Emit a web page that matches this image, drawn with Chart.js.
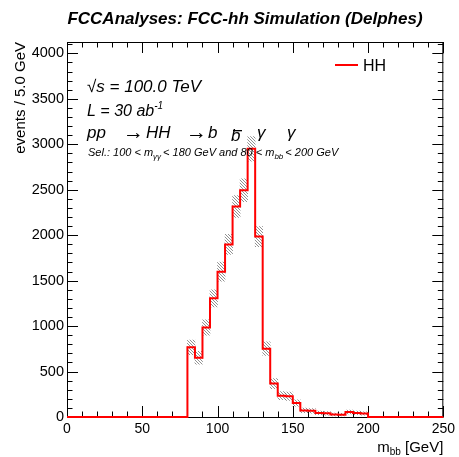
<!DOCTYPE html>
<html>
<head>
<meta charset="utf-8">
<script src="https://cdn.jsdelivr.net/npm/chart.js@4"></script>
<style>
  html, body { margin: 0; padding: 0; background: #fff; }
  #wrap { width: 459px; height: 457px; }
</style>
</head>
<body>
<div id="wrap"><canvas id="c"></canvas></div>
<script>
// m_bb histogram, 5 GeV bins, first filled bin starts at 80 GeV
const binWidth = 5
const firstEdge = 80
const counts = [766, 652, 985, 1305, 1598, 1898, 2315, 2495, 2950, 1985, 752, 368,
  235, 228, 155, 72, 68, 45, 40, 28, 26, 55, 45, 38]
const errors = [80, 70, 85, 95, 105, 110, 120, 125, 135, 110, 75, 55,
  45, 45, 35, 25, 25, 20, 20, 15, 15, 20, 20, 18]
const xTicks = [0, 50, 100, 150, 200, 250]
const yTicks = [0, 500, 1000, 1500, 2000, 2500, 3000, 3500, 4000]
const xRange = [0, 250]
const yRange = [0, 4125]
const xMinorStep = 10
const yMinorStep = 100

const FONT = '"Liberation Sans", Arial, Helvetica, sans-serif'
const RED = '#f00'

// step outline: one point per bin high edge carrying that bin's content
const outline = [{ x: xRange[0], y: 0 }, { x: firstEdge, y: 0 }]
counts.forEach((v, i) => outline.push({ x: firstEdge + (i + 1) * binWidth, y: v }))
outline.push({ x: xRange[1], y: 0 })

const band = counts.map((v, i) => ({
  x: firstEdge + (i + 0.5) * binWidth,
  y: [v - errors[i], v + errors[i]],
}))

function hatch() {
  const s = 3
  const c = document.createElement('canvas')
  c.width = s
  c.height = s
  const g = c.getContext('2d')
  g.strokeStyle = '#444'
  g.lineWidth = 0.6
  g.beginPath()
  g.moveTo(-1, -1); g.lineTo(s + 1, s + 1)
  g.moveTo(-1, s - 1); g.lineTo(1, s + 1)
  g.moveTo(s - 1, -1); g.lineTo(s + 1, 1)
  g.stroke()
  return g.createPattern(c, 'repeat')
}

// draw a run of text pieces left to right; each piece may shift size / baseline
function rich(ctx, x, y, parts, style) {
  let cx = x
  for (const p of parts) {
    ctx.font = `${p.style || style} ${p.size}px ${FONT}`
    ctx.fillText(p.t, cx, y + (p.dy || 0))
    cx += ctx.measureText(p.t).width + (p.gap || 0)
  }
  return cx
}

const frame = {
  id: 'frame',
  beforeDatasetsDraw(chart) {
    const { ctx, chartArea: a, scales: { x, y } } = chart
    ctx.save()
    ctx.strokeStyle = '#000'
    ctx.lineWidth = 1
    ctx.strokeRect(a.left + 0.5, a.top + 0.5, a.right - a.left - 1, a.bottom - a.top)
    ctx.beginPath()
    for (let v = xRange[0]; v <= xRange[1]; v += xMinorStep) {
      const px = Math.round(x.getPixelForValue(v)) + 0.5
      const len = v % 50 === 0 ? 11 : 5.5
      ctx.moveTo(px, a.bottom); ctx.lineTo(px, a.bottom - len)
      ctx.moveTo(px, a.top); ctx.lineTo(px, a.top + len)
    }
    for (let v = yRange[0]; v <= yRange[1]; v += yMinorStep) {
      const py = Math.round(y.getPixelForValue(v)) + 0.5
      const len = v % 500 === 0 ? 11 : 5.5
      ctx.moveTo(a.left, py); ctx.lineTo(a.left + len, py)
      ctx.moveTo(a.right, py); ctx.lineTo(a.right - len, py)
    }
    ctx.stroke()
    ctx.restore()
  },
  afterDraw(chart) {
    const { ctx, chartArea: a } = chart
    ctx.save()
    ctx.fillStyle = '#000'
    ctx.textBaseline = 'alphabetic'

    // title
    ctx.font = `italic bold 17px ${FONT}`
    ctx.textAlign = 'center'
    ctx.fillText('FCCAnalyses: FCC-hh Simulation (Delphes)', 245, 24)

    ctx.textAlign = 'left'
    rich(ctx, 87, 92, [{ t: '\u221As = 100.0 TeV', size: 17 }], 'italic')
    rich(ctx, 87, 116, [
      { t: 'L = 30 ab', size: 16 },
      { t: '-1', size: 10, dy: -7 },
    ], 'italic')

    // pp -> HH -> b bbar gamma gamma
    ctx.font = `italic 17px ${FONT}`
    ctx.fillText('pp', 87, 138)
    ctx.fillText('HH', 146, 138)
    ctx.fillText('b', 208, 138)
    ctx.fillText('b', 231, 141)
    ctx.fillRect(233, 130, 9, 1.3)
    ctx.fillText('\u03B3', 257, 138)
    ctx.fillText('\u03B3', 287, 138)
    ctx.font = `21px ${FONT}`
    ctx.fillText('\u2192', 123, 139)
    ctx.fillText('\u2192', 186, 139)

    rich(ctx, 88, 156, [
      { t: 'Sel.: 100 < m', size: 11 },
      { t: '\u03B3\u03B3', size: 8, dy: 3, gap: 2 },
      { t: '< 180 GeV and 80 < m', size: 11 },
      { t: 'bb', size: 8, dy: 3, gap: 2 },
      { t: '< 200 GeV', size: 11 },
    ], 'italic')

    // legend
    ctx.strokeStyle = RED
    ctx.lineWidth = 2
    ctx.beginPath()
    ctx.moveTo(335, 65); ctx.lineTo(358, 65)
    ctx.stroke()
    ctx.font = `16px ${FONT}`
    ctx.fillText('HH', 363, 71)

    // x title, right aligned to the axis end
    ctx.font = `15px ${FONT}`
    const w1 = ctx.measureText('m').width
    const w3 = ctx.measureText(' [GeV]').width
    ctx.font = `10px ${FONT}`
    const w2 = ctx.measureText('bb').width
    const x0 = a.right - w1 - w2 - w3
    rich(ctx, x0, 452, [
      { t: 'm', size: 15 },
      { t: 'bb', size: 10, dy: 3 },
      { t: ' [GeV]', size: 15 },
    ], '')

    // y title, right aligned to the top of the axis
    ctx.translate(25, a.top)
    ctx.rotate(-Math.PI / 2)
    ctx.textAlign = 'right'
    ctx.font = `15px ${FONT}`
    ctx.fillText('events / 5.0 GeV', 0, 0)
    ctx.restore()
  },
}

new Chart(document.getElementById('c'), {
  data: {
    datasets: [
      {
        type: 'bar',
        data: band,
        backgroundColor: hatch(),
        borderWidth: 0,
        barPercentage: 1,
        categoryPercentage: 1,
        order: 2,
      },
      {
        type: 'line',
        data: outline,
        stepped: 'after',
        borderColor: RED,
        borderWidth: 2,
        pointRadius: 0,
        fill: false,
        clip: false,
        order: 1,
      },
    ],
  },
  options: {
    responsive: true,
    maintainAspectRatio: false,
    animation: false,
    events: [],
    layout: { padding: { top: 42, right: 13, left: 0, bottom: 0 } },
    plugins: { legend: { display: false }, tooltip: { enabled: false } },
    scales: {
      x: {
        type: 'linear',
        min: xRange[0],
        max: xRange[1],
        offset: false,
        grid: { display: false, drawTicks: false },
        border: { display: false },
        afterBuildTicks: (s) => { s.ticks = xTicks.map((v) => ({ value: v })) },
        afterFit: (s) => { s.height = 40 },
        ticks: {
          maxRotation: 0,
          autoSkip: false,
          padding: 4,
          color: '#000',
          font: { family: FONT, size: 14 },
          callback: (v) => String(v),
        },
      },
      y: {
        min: yRange[0],
        max: yRange[1],
        grid: { display: false, drawTicks: false },
        border: { display: false },
        afterBuildTicks: (s) => { s.ticks = yTicks.map((v) => ({ value: v })) },
        afterFit: (s) => { s.width = 67 },
        ticks: {
          padding: 3,
          color: '#000',
          font: { family: FONT, size: 14.5 },
          callback: (v) => String(v),
        },
      },
    },
  },
  plugins: [frame],
})
</script>
</body>
</html>
